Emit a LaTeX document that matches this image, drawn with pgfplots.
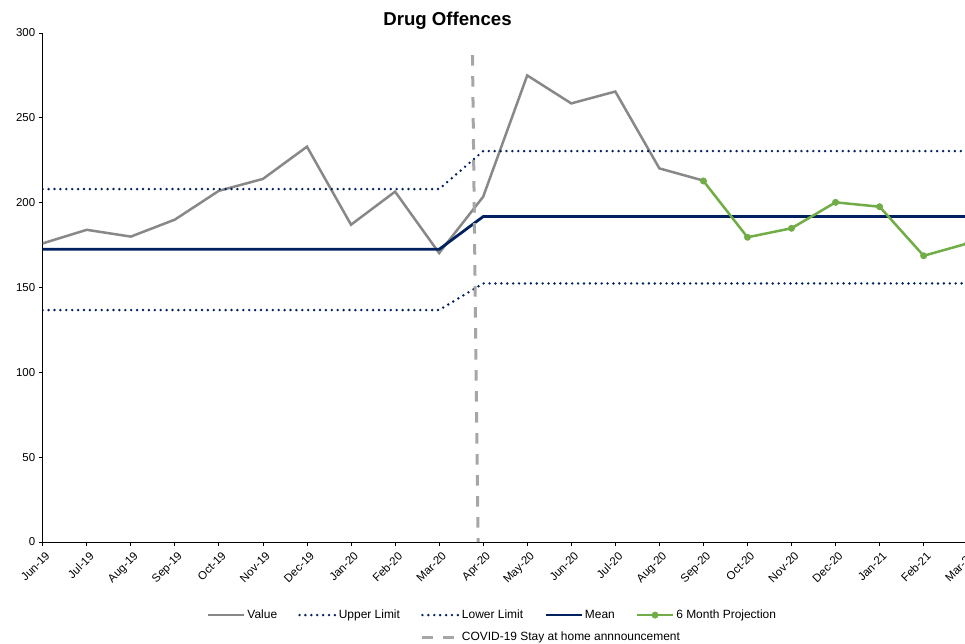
\documentclass[border=0pt]{standalone}
\usepackage{pgfplots}
\pgfplotsset{compat=1.18}
\usepackage{fontspec}
\setmainfont{Liberation Sans}
\definecolor{valgray}{RGB}{136,136,136}
\definecolor{navy}{RGB}{0,32,96}
\definecolor{projgreen}{RGB}{112,173,71}
\definecolor{covidgray}{RGB}{166,166,166}
\begin{document}
\begin{tikzpicture}
\useasboundingbox (-42.7bp,-102bp) rectangle (922.3bp,542bp);
\begin{axis}[
  at={(0,0)}, anchor=south west,
  scale only axis, width=925bp, height=509bp,
  xmin=0, xmax=21, ymin=0, ymax=300,
  axis x line*=bottom, axis y line*=left,
  axis line style={-, black, line width=0.8bp},
  xtick={0,...,21},
  xticklabels={Jun-19,Jul-19,Aug-19,Sep-19,Oct-19,Nov-19,Dec-19,Jan-20,Feb-20,Mar-20,Apr-20,May-20,Jun-20,Jul-20,Aug-20,Sep-20,Oct-20,Nov-20,Dec-20,Jan-21,Feb-21,Mar-21},
  ytick={0,50,...,300},
  tick align=outside, major tick length=4bp,
  tick style={black, line width=0.8bp},
  ticklabel style={font=\fontsize{11.5}{13}\selectfont},
  /pgf/number format/assume math mode=true,
  xticklabel style={rotate=45, anchor=north east, inner sep=2bp, yshift=-3bp},
  title={Drug Offences},
  title style={at={(0.4376,1.0127)}, anchor=center, yshift=0pt, font=\bfseries\fontsize{18.7}{22}\selectfont},
  legend columns=5,
  legend cell align=left,
  legend style={at={(0.1776,-0.1297)}, anchor=north west, draw=none, fill=none,
    inner sep=0pt, outer sep=0pt, font=\fontsize{12}{14}\selectfont,
    /tikz/every even column/.append style={column sep=19bp},
    /tikz/row sep=8bp, nodes={inner sep=2bp}},
  legend image code/.code={\draw[mark repeat=2, mark phase=2, #1] plot coordinates {(0bp,0bp) (18bp,0bp) (36bp,0bp)};},
]
\addplot[valgray, line width=2.5bp, no marks] coordinates {
(0,176) (1,184) (2,180) (3,190) (4,207) (5,214) (6,233) (7,187) (8,206.5) (9,170.3)
(10,203.5) (11,275) (12,258.5) (13,265.5) (14,220.2) (15,213)};
\addlegendentry{Value}
\addplot[navy, line width=2.7bp, line cap=round, dash pattern=on 0bp off 5.9bp, no marks] coordinates {
(0,208) (1,208) (2,208) (3,208) (4,208) (5,208) (6,208) (7,208) (8,208) (9,208)
(10,230.4) (11,230.4) (12,230.4) (13,230.4) (14,230.4) (15,230.4) (16,230.4) (17,230.4) (18,230.4) (19,230.4) (20,230.4) (21,230.4)};
\addlegendentry{Upper Limit}
\addplot[navy, line width=2.7bp, line cap=round, dash pattern=on 0bp off 5.9bp, no marks] coordinates {
(0,136.7) (1,136.7) (2,136.7) (3,136.7) (4,136.7) (5,136.7) (6,136.7) (7,136.7) (8,136.7) (9,136.7)
(10,152.4) (11,152.4) (12,152.4) (13,152.4) (14,152.4) (15,152.4) (16,152.4) (17,152.4) (18,152.4) (19,152.4) (20,152.4) (21,152.4)};
\addlegendentry{Lower Limit}
\addplot[navy, line width=2.8bp, no marks] coordinates {
(0,172.5) (1,172.5) (2,172.5) (3,172.5) (4,172.5) (5,172.5) (6,172.5) (7,172.5) (8,172.5) (9,172.5)
(10,191.8) (11,191.8) (12,191.8) (13,191.8) (14,191.8) (15,191.8) (16,191.8) (17,191.8) (18,191.8) (19,191.8) (20,191.8) (21,191.8)};
\addlegendentry{Mean}
\addplot[projgreen, line width=2.5bp, mark=*, mark size=3.2bp, mark options={fill=projgreen, draw=projgreen, line width=0.5bp}] coordinates {
(15,212.8) (16,179.6) (17,184.9) (18,200.2) (19,197.6) (20,168.7) (21,176)};
\addlegendentry{6 Month Projection}
\addlegendimage{empty legend}\addlegendentry{}
\addlegendimage{empty legend}\addlegendentry{}
\addplot[covidgray, line width=3bp, dash pattern=on 10.5bp off 10.5bp, no marks] coordinates {
(9.757,287) (9.884,0)};
\addlegendentry{\makebox[0pt][l]{COVID-19 Stay at home annnouncement}}
\end{axis}
\end{tikzpicture}
\end{document}
